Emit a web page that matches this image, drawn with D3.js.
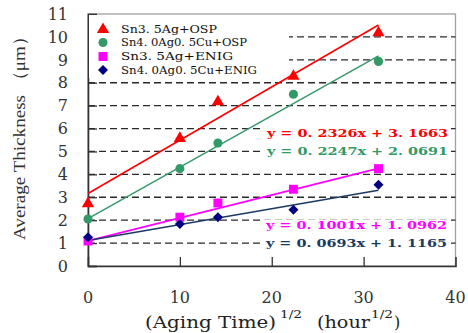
<!DOCTYPE html>
<html>
<head>
<meta charset="utf-8">
<script src="https://cdn.jsdelivr.net/npm/d3@7"></script>
<style>
  body { margin: 0; background: #fff; }
  svg { display: block; }
</style>
</head>
<body>
<div id="chart"></div>
<script>
// aging time (hours) -> sqrt on the x axis
var agingX = [0, 10, 14.14, 22.36, 31.62];

var seriesNames = ["Sn3. 5Ag+OSP", "Sn4. 0Ag0. 5Cu+OSP", "Sn3. 5Ag+ENIG", "Sn4. 0Ag0. 5Cu+ENIG"];
var snAgOsp    = [2.72, 5.57, 7.17, 8.28, 10.18];
var snAgCuOsp  = [2.05, 4.25, 5.37, 7.5, 8.93];
var snAgEnig   = [1.09, 2.13, 2.75, 3.35, 4.25];
var snAgCuEnig = [1.25, 1.83, 2.13, 2.45, 3.55];

// trend lines as printed on the chart
var slopes = [0.2326, 0.2247, 0.1001, 0.0693];
var intercepts = [3.1663, 2.0691, 1.0962, 1.1165];
var eqLabels = ["y = 0. 2326x + 3. 1663", "y = 0. 2247x + 2. 0691", "y = 0. 1001x + 1. 0962", "y = 0. 0693x + 1. 1165"];

var xTicks = [0, 10, 20, 30, 40];
var yTicks = [0, 1, 2, 3, 4, 5, 6, 7, 8, 9, 10, 11];

var W = 468, H = 333;
var svg = d3.select("#chart").append("svg").attr("width", W).attr("height", H);

var x = d3.scaleLinear().domain([0, 40]).range([88, 455.5]);
var y = d3.scaleLinear().domain([0, 11]).range([266, 14]);

var allValues = [snAgOsp, snAgCuOsp, snAgEnig, snAgCuEnig];
var lineColors = ["#ff0000", "#3a9a6c", "#ff00ff", "#1b3a63"];
var markColors = ["#ff0000", "#339966", "#ff00ff", "#000080"];
var shapes = [d3.symbolTriangle, d3.symbolCircle, d3.symbolSquare, d3.symbolSquare];
var sizes = [65, 65, 80, 50];
var rot = [0, 0, 0, 45];

function markTransform(px, py, i) {
  return "translate(" + px + "," + py + ")" + (rot[i] ? " rotate(" + rot[i] + ")" : "");
}

// frame (top / right in grey)
svg.append("rect").attr("x", x(0)).attr("y", y(11))
  .attr("width", x(40) - x(0)).attr("height", y(0) - y(11))
  .attr("fill", "none").attr("stroke", "#a0a0a0").attr("stroke-width", 1.3);

// dashed grid lines
svg.append("g").selectAll("line")
  .data(yTicks.filter(function(d){ return d > 0 && d < 11; }))
  .enter().append("line")
  .attr("x1", x(0)).attr("x2", x(40))
  .attr("y1", function(d){ return y(d); }).attr("y2", function(d){ return y(d); })
  .attr("stroke", "#2a2a2a").attr("stroke-width", 1.3)
  .attr("stroke-dasharray", "7,4");

// axes with inside ticks
var yAxis = svg.append("g").attr("transform", "translate(" + x(0) + ",0)")
  .call(d3.axisRight(y).tickValues(yTicks).tickSize(9).tickFormat(""));
var xAxis = svg.append("g").attr("transform", "translate(0," + y(0) + ")")
  .call(d3.axisTop(x).tickValues(xTicks).tickSize(9).tickFormat(""));
[yAxis, xAxis].forEach(function(a){
  a.select(".domain").attr("stroke", "#333").attr("stroke-width", 1.6);
  a.selectAll(".tick line").attr("stroke", "#333").attr("stroke-width", 1.3);
});
xAxis.selectAll(".tick").filter(function(d){ return d == 0 || d == 40; }).remove();

// tick labels
svg.append("g").selectAll("text").data(yTicks).enter().append("text")
  .attr("x", 68).attr("y", function(d){ return y(d); })
  .attr("dy", "0.36em").attr("text-anchor", "end")
  .style("font-family", "DejaVu Serif").style("font-size", "16px").attr("fill", "#333")
  .text(function(d){ return d; });
svg.append("g").selectAll("text").data(xTicks).enter().append("text")
  .attr("x", function(d){ return x(d); }).attr("y", 297)
  .attr("dy", "0.36em").attr("text-anchor", "middle")
  .style("font-family", "DejaVu Serif").style("font-size", "16px").attr("fill", "#333")
  .text(function(d){ return d; });

// legend background
svg.append("rect").attr("x", x(0) + 1).attr("y", y(11) + 1)
  .attr("width", 200).attr("height", 63).attr("fill", "#fff");

// trend lines
var xEnd = d3.max(agingX);
slopes.forEach(function(m, i){
  svg.append("line")
    .attr("x1", x(0)).attr("y1", y(intercepts[i]))
    .attr("x2", x(xEnd)).attr("y2", y(m * xEnd + intercepts[i]))
    .attr("stroke", lineColors[i]).attr("stroke-width", 1.6);
});

// markers
allValues.forEach(function(vals, i){
  svg.append("g").selectAll("path").data(vals).enter().append("path")
    .attr("d", d3.symbol().type(shapes[i]).size(sizes[i]))
    .attr("transform", function(d, j){ return markTransform(x(agingX[j]), y(d), i); })
    .attr("fill", markColors[i]);
});

// legend
var legendY = [29.5, 42.5, 56.5, 70];
var legendW = [96, 126, 112, 136];
seriesNames.forEach(function(name, i){
  svg.append("path")
    .attr("d", d3.symbol().type(shapes[i]).size(sizes[i]))
    .attr("transform", markTransform(103, legendY[i], i))
    .attr("fill", markColors[i]);
  svg.append("text").attr("x", 121).attr("y", legendY[i]).attr("dy", "0.36em")
    .attr("textLength", legendW[i]).attr("lengthAdjust", "spacingAndGlyphs")
    .style("font-family", "DejaVu Serif").style("font-size", "11px").attr("fill", "#111")
    .text(name);
});

// equations
var eqY = [133, 151.5, 225.5, 243];
var eqX = [267, 267, 266, 266];
eqLabels.forEach(function(t, i){
  svg.append("rect").attr("x", 262).attr("y", eqY[i] - 6)
    .attr("width", 188).attr("height", 12).attr("fill", "#fff");
});
eqLabels.forEach(function(t, i){
  svg.append("text").attr("x", eqX[i]).attr("y", eqY[i]).attr("dy", "0.36em")
    .attr("textLength", 181).attr("lengthAdjust", "spacingAndGlyphs")
    .style("font-family", "DejaVu Serif").style("font-size", "11px")
    .style("font-weight", "bold").attr("fill", i == 3 ? "#1b3a63" : markColors[i])
    .text(t);
});

// x axis title
var xt = svg.append("g").style("font-family", "DejaVu Serif").attr("fill", "#222");
xt.append("text").attr("x", 145).attr("y", 328).attr("textLength", 131).attr("lengthAdjust", "spacingAndGlyphs")
  .style("font-size", "16px").text("(Aging Time)");
xt.append("text").attr("x", 280).attr("y", 318).attr("textLength", 22).attr("lengthAdjust", "spacingAndGlyphs")
  .style("font-size", "11px").text("1/2");
xt.append("text").attr("x", 317).attr("y", 328).attr("textLength", 53).attr("lengthAdjust", "spacingAndGlyphs")
  .style("font-size", "16px").text("(hour");
xt.append("text").attr("x", 371).attr("y", 318).attr("textLength", 22).attr("lengthAdjust", "spacingAndGlyphs")
  .style("font-size", "11px").text("1/2");
xt.append("text").attr("x", 394).attr("y", 328).style("font-size", "16px").text(")");

// y axis title
svg.append("text")
  .attr("transform", "translate(19,240) rotate(-90)")
  .attr("dy", "0.36em")
  .attr("textLength", 213).attr("lengthAdjust", "spacingAndGlyphs")
  .style("font-family", "Liberation Serif").style("font-size", "17px").attr("fill", "#333")
  .text("Average Thickness \uFF08\u03BCm\uFF09");
</script>
</body>
</html>
